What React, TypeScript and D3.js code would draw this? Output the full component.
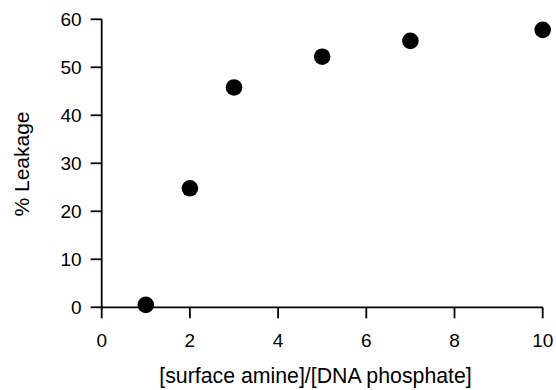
import React from "react";
import * as d3 from "d3";

const ratios = [1, 2, 3, 5, 7, 10];
const leakage = [0.5, 24.8, 45.8, 52.2, 55.5, 57.8];
const xTicks = [0, 2, 4, 6, 8, 10];
const yTicks = [0, 10, 20, 30, 40, 50, 60];
const xTitle = "[surface amine]/[DNA phosphate]";
const yTitle = "% Leakage";

const W = 556;
const H = 390;
const FONT = "'Liberation Sans', Arial, Helvetica, sans-serif";

export default function App() {
  const x = d3.scaleLinear().domain([0, 10]).range([101.7, 542.7]);
  const y = d3.scaleLinear().domain([0, 60]).range([307.3, 19.3]);
  const tick = 11;
  const x0 = x(0);
  const y0 = y(0);
  return (
    <svg
      width={W}
      height={H}
      style={{ position: "absolute", left: 0, top: 0, background: "#fff" }}
      fontFamily={FONT}
    >
      <g stroke="#000" strokeWidth={1.8} fill="none">
        <line x1={x0} x2={x0} y1={y(60)} y2={y0} />
        <line x1={x0} x2={x(10)} y1={y0} y2={y0} />
        {yTicks.map((t) => (
          <line key={"yt" + t} x1={x0 - tick} x2={x0} y1={y(t)} y2={y(t)} />
        ))}
        {xTicks.map((t) => (
          <line key={"xt" + t} x1={x(t)} x2={x(t)} y1={y0} y2={y0 + tick} />
        ))}
      </g>
      <g fontSize={19} fill="#000">
        {yTicks.map((t) => (
          <text key={"yl" + t} x={x0 - 20} y={y(t)} dy="0.35em" textAnchor="end">
            {t}
          </text>
        ))}
        {xTicks.map((t) => (
          <text key={"xl" + t} x={x(t)} y={y0 + 40} textAnchor="middle">
            {t}
          </text>
        ))}
      </g>
      <text
        x={315.5}
        y={383}
        fontSize={21.3}
        textAnchor="middle"
        fill="#000"
      >
        {xTitle}
      </text>
      <text
        transform={`translate(29,164) rotate(-90)`}
        fontSize={21}
        textAnchor="middle"
        fill="#000"
      >
        {yTitle}
      </text>
      <g fill="#000">
        {ratios.map((r, i) => (
          <circle key={"p" + i} cx={x(r)} cy={y(leakage[i])} r={8.3} />
        ))}
      </g>
    </svg>
  );
}
